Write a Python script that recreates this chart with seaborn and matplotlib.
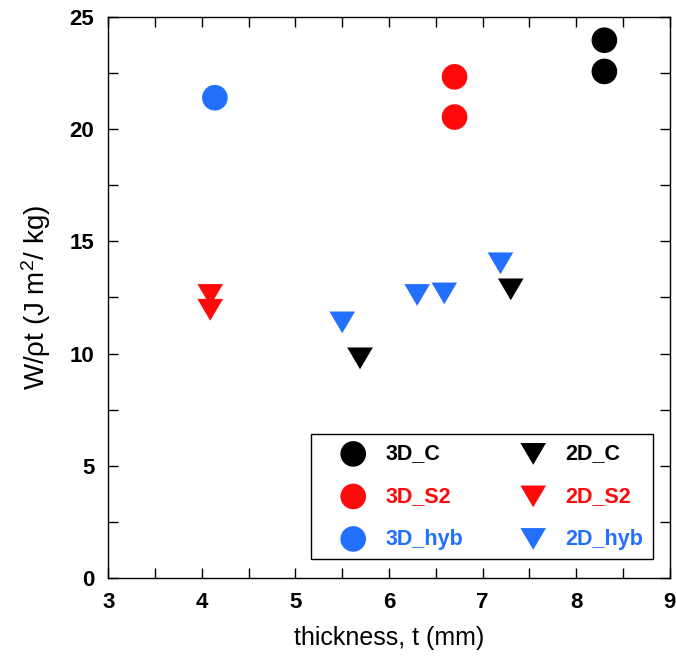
import matplotlib
matplotlib.use("Agg")
import matplotlib.pyplot as plt
from matplotlib.ticker import MultipleLocator
import seaborn as sns
import pandas as pd

# ---- data ----
series = ["3D_C", "3D_S2", "3D_hyb", "2D_C", "2D_S2", "2D_hyb"]
colors = ["#000000", "#ff0a0a", "#2370ff", "#000000", "#ff0a0a", "#2370ff"]
x_3D_C = [8.30, 8.30]
y_3D_C = [23.95, 22.56]
x_3D_S2 = [6.70, 6.70]
y_3D_S2 = [22.32, 20.53]
x_3D_hyb = [4.14]
y_3D_hyb = [21.39]
x_2D_C = [5.69, 7.30]
y_2D_C = [9.79, 12.86]
x_2D_S2 = [4.09, 4.09]
y_2D_S2 = [12.61, 11.95]
x_2D_hyb = [5.50, 6.30, 6.59, 7.19]
y_2D_hyb = [11.39, 12.61, 12.68, 14.02]

xs = [x_3D_C, x_3D_S2, x_3D_hyb, x_2D_C, x_2D_S2, x_2D_hyb]
ys = [y_3D_C, y_3D_S2, y_3D_hyb, y_2D_C, y_2D_S2, y_2D_hyb]

sns.set_theme(style="ticks")
plt.rcParams["font.family"] = ["Liberation Sans", "DejaVu Sans"]
plt.rcParams["mathtext.fontset"] = "custom"
plt.rcParams["mathtext.rm"] = "Liberation Sans"
plt.rcParams["mathtext.it"] = "Liberation Sans:italic"
for k in ["text.color", "axes.labelcolor", "xtick.color", "ytick.color", "axes.edgecolor"]:
    plt.rcParams[k] = "black"

fig = plt.figure(figsize=(6.76, 6.65), dpi=100)
ax = fig.add_axes([0.160, 0.1304, 0.831, 0.8446])

tri = [(-1.0, 0.85), (1.0, 0.85), (0.0, -0.85)]
for name, col, xv, yv in zip(series, colors, xs, ys):
    df = pd.DataFrame({"x": xv, "y": yv})
    mk = "o" if name.startswith("3D") else tri
    sns.scatterplot(data=df, x="x", y="y", color=col, marker=mk, s=340,
                    linewidth=0, edgecolor="none", ax=ax, label=name, zorder=3)

ax.set_xlim(3, 9)
ax.set_ylim(0, 25)
ax.xaxis.set_major_locator(MultipleLocator(1))
ax.xaxis.set_minor_locator(MultipleLocator(0.5))
ax.yaxis.set_major_locator(MultipleLocator(5))
ax.yaxis.set_minor_locator(MultipleLocator(2.5))
ax.tick_params(which="both", direction="in", top=True, right=True,
               length=7, width=1.0, color="black")
ax.tick_params(which="major", labelsize=16, pad=10, labelcolor="black")
for lab in ax.get_xticklabels() + ax.get_yticklabels():
    lab.set_fontweight("bold")
for sp in ax.spines.values():
    sp.set_linewidth(1.0)
    sp.set_color("black")

ax.set_xlabel("thickness, t (mm)", fontsize=18, labelpad=9)
ax.set_ylabel("W/\u03c1t (J m$^2$/ kg)", fontsize=20, labelpad=12)

leg = ax.legend(ncol=2, loc="lower right", bbox_to_anchor=(0.970, 0.0338),
                borderaxespad=0.0,
                prop={"size": 15.5, "weight": "bold"}, frameon=True,
                fancybox=False, framealpha=1, edgecolor="black",
                borderpad=0.45, handlelength=3.0, handletextpad=0.0,
                columnspacing=1.75, labelspacing=1.0, scatterpoints=1)
leg.get_frame().set_linewidth(1.0)
for t, c in zip(leg.get_texts(), colors):
    t.set_color(c)

fig.savefig("out.png", dpi=100)
